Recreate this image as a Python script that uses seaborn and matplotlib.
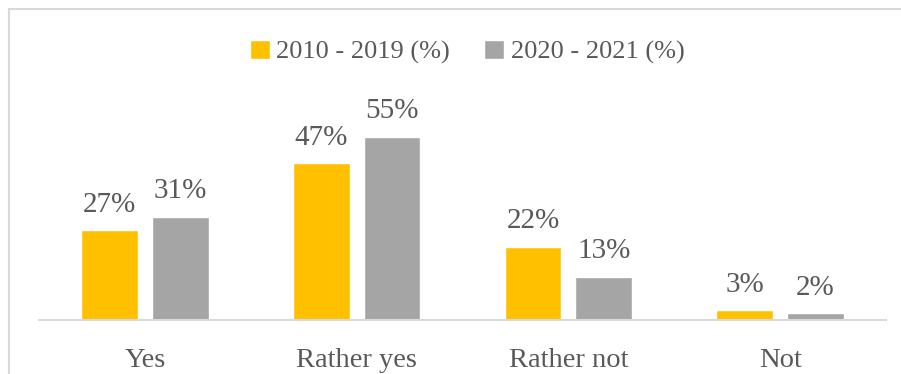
import matplotlib
matplotlib.use("Agg")
import matplotlib.pyplot as plt
import seaborn as sns
import pandas as pd
from matplotlib.patches import Rectangle

categories = ["Yes", "Rather yes", "Rather not", "Not"]
series_names = ["2010 - 2019 (%)", "2020 - 2021 (%)"]
values_2010_2019 = [27, 47, 22, 3]
values_2020_2021 = [31, 55, 13, 2]
colors = ["#FFC000", "#A5A5A5"]

df = pd.DataFrame({
    "category": categories * 2,
    "series": [series_names[0]] * 4 + [series_names[1]] * 4,
    "value": values_2010_2019 + values_2020_2021,
})

sns.set_theme(style="white")
plt.rcParams["font.family"] = ["Liberation Serif", "DejaVu Serif"]
text_color = "#595959"

fig = plt.figure(figsize=(9.01, 3.74), dpi=100)
ax = fig.add_axes([39 / 901, 54 / 374, 847 / 901, 200 / 374])

sns.barplot(data=df, x="category", y="value", hue="series", order=categories,
            hue_order=series_names, palette=colors, width=0.67, gap=0.2,
            saturation=1, ax=ax, legend=True)

ax.set_xlim(-0.5, 3.5)
ax.set_ylim(0, 60)
for s in ["top", "right", "left"]:
    ax.spines[s].set_visible(False)
ax.spines["bottom"].set_color("#D9D9D9")
ax.spines["bottom"].set_linewidth(1.5)
ax.set_yticks([])
ax.set_xlabel("")
ax.set_ylabel("")
ax.tick_params(axis="x", length=0, pad=20, labelsize=20.5, labelcolor=text_color)

for cont in ax.containers:
    ax.bar_label(cont, labels=[f"{int(v)}%" for v in cont.datavalues],
                 padding=9, fontsize=21, color=text_color)

handles, labels = ax.get_legend_handles_labels()
ax.get_legend().remove()
fig.legend(handles, labels, loc="center", bbox_to_anchor=(467 / 901, 1 - 52 / 374),
           ncol=2, frameon=False, fontsize=19, labelcolor=text_color,
           handlelength=0.75, handleheight=0.75, handletextpad=0.25, columnspacing=1.3)

fig.patches.append(Rectangle((9 / 901, -0.1), 1.2, 1 - 9 / 374 + 0.1,
                             transform=fig.transFigure, fill=False,
                             edgecolor="#D9D9D9", linewidth=1.5))

fig.savefig("out.png", dpi=100)
